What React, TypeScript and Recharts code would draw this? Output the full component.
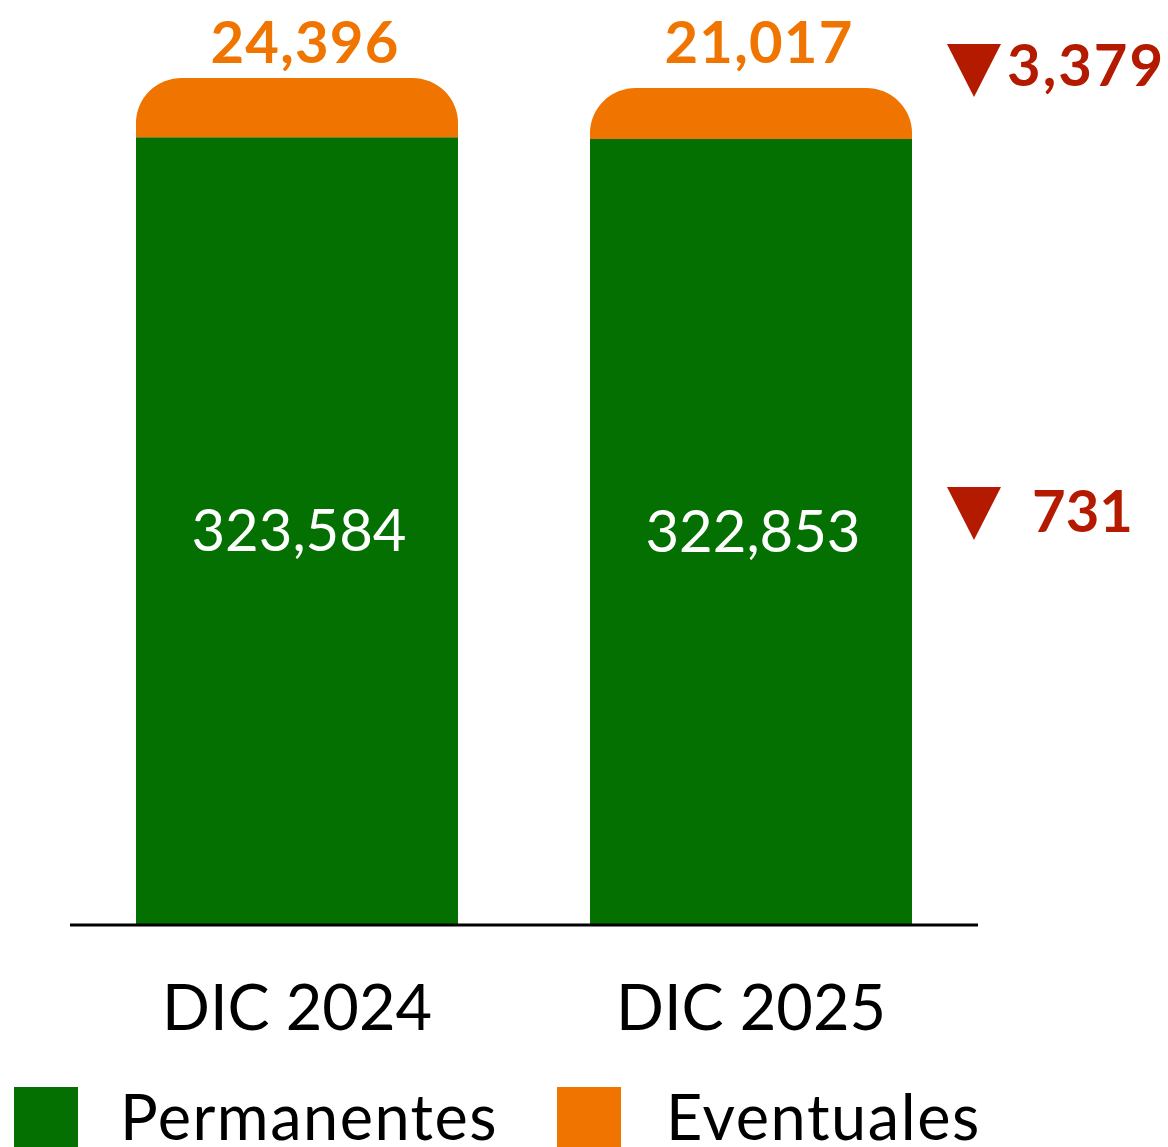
import React from 'react';
import { BarChart, Bar, XAxis, YAxis, Legend, LabelList } from 'recharts';

const categories = ['DIC 2024', 'DIC 2025'];
const permanentes = [323584, 322853];
const eventuales = [24396, 21017];
const seriesNames = ['Permanentes', 'Eventuales'];
const changePermanentes = '731';
const changeEventuales = '3,379';

const GREEN = '#037001';
const ORANGE = '#F07400';
const RED = '#B31A00';
const FONT = 'Lato, "Noto Sans", sans-serif';

const data = categories.map((c, i) => ({
  name: c,
  permanentes: permanentes[i],
  eventuales: eventuales[i],
}));

const fmt = (v: number) => v.toLocaleString('en-US');

const Triangle = ({ x, top }: { x: number; top: number }) => (
  <polygon points={`${x},${top} ${x + 54},${top} ${x + 27},${top + 53}`} fill={RED} />
);

const RoundedTopBar = (props: any) => {
  const { x, y, width, height, fill } = props;
  if (!width || !height) return null;
  const rx = Math.min(46, width / 2);
  const ry = Math.min(45, height);
  const d = `M${x},${y + height} L${x},${y + ry} A${rx},${ry} 0 0 1 ${x + rx},${y} L${x + width - rx},${y} A${rx},${ry} 0 0 1 ${x + width},${y + ry} L${x + width},${y + height} Z`;
  return <path d={d} fill={fill} />;
};

const GreenLabel = (props: any) => {
  const { x, y, width, height, value, index } = props;
  const cx = x + width / 2;
  const cy = y + height / 2;
  return (
    <g>
      <text x={cx + 2} y={cy} dy={20} textAnchor="middle" fill="#fff" fontSize={58} fontFamily={FONT}>
        {fmt(value)}
      </text>
      {index === 1 && (
        <g>
          <Triangle x={x + width + 35} top={487} />
          <text x={x + width + 120} y={532} fill={RED} fontSize={58} fontWeight={700} fontFamily={FONT}>
            {changePermanentes}
          </text>
        </g>
      )}
    </g>
  );
};

const OrangeLabel = (props: any) => {
  const { x, width, value, index } = props;
  const cx = x + width / 2;
  return (
    <g>
      <text x={cx + 8} y={63} textAnchor="middle" fill={ORANGE} fontSize={58} fontWeight={700} fontFamily={FONT} letterSpacing={1.2}>
        {fmt(value)}
      </text>
      {index === 1 && (
        <g>
          <Triangle x={x + width + 35} top={44} />
          <text x={x + width + 95} y={86} fill={RED} fontSize={58} fontWeight={700} fontFamily={FONT} letterSpacing={2}>
            {changeEventuales}
          </text>
        </g>
      )}
    </g>
  );
};

const LegendContent = () => (
  <svg width={1168} height={60} style={{ display: 'block' }}>
    <rect x={14} y={0} width={64} height={60} fill={GREEN} />
    <text x={120} y={53} fontSize={63} fontFamily={FONT} fill="#000" letterSpacing={1.5}>{seriesNames[0]}</text>
    <rect x={557} y={0} width={64} height={60} fill={ORANGE} />
    <text x={666} y={53} fontSize={63} fontFamily={FONT} fill="#000" letterSpacing={1.6}>{seriesNames[1]}</text>
  </svg>
);

export default function App() {
  return (
    <div style={{ position: 'absolute', left: 0, top: 0, width: 1168, height: 1147, overflow: 'hidden', background: '#fff' }}>
      <BarChart
        width={1168}
        height={1147}
        data={data}
        margin={{ top: 0, right: 190, bottom: 0, left: 70 }}
        barSize={322}
        barCategoryGap={66}
      >
        <YAxis hide domain={[0, 380000]} />
        <XAxis
          dataKey="name"
          axisLine={{ stroke: '#000', strokeWidth: 3 }}
          tickLine={false}
          tickSize={0}
          tickMargin={60}
          height={162}
          interval={0}
          tick={{ fill: '#000', fontSize: 63, fontFamily: FONT }}
        />
        <Bar dataKey="permanentes" stackId="a" fill={GREEN} isAnimationActive={false}>
          <LabelList dataKey="permanentes" content={GreenLabel} />
        </Bar>
        <Bar dataKey="eventuales" stackId="a" fill={ORANGE} shape={RoundedTopBar} isAnimationActive={false}>
          <LabelList dataKey="eventuales" content={OrangeLabel} />
        </Bar>
        <Legend
          verticalAlign="bottom"
          content={LegendContent}
          wrapperStyle={{ left: 0, bottom: 0, width: 1168, height: 60 }}
        />
      </BarChart>
    </div>
  );
}
